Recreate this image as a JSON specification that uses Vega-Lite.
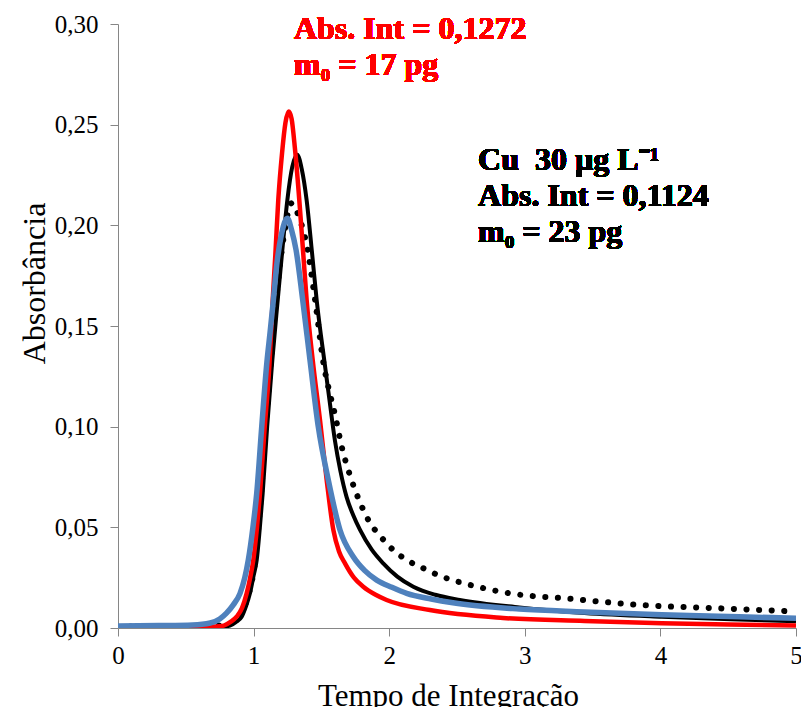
{
  "$schema": "https://vega.github.io/schema/vega-lite/v6.json",
  "width": 678,
  "height": 604,
  "autosize": "none",
  "padding": {"left": 118, "top": 24, "right": 5, "bottom": 79},
  "background": "white",
  "config": {"view": {"stroke": null}, "font": "Liberation Serif"},
  "datasets": {
    "curves": [
      {"s": "r", "t": 0, "a": 0}, {"s": "r", "t": 0.3, "a": 0.0003}, {"s": "r", "t": 0.6, "a": 0.0005}, {"s": "r", "t": 0.72, "a": 0.0007},
      {"s": "r", "t": 0.78, "a": 0.0012}, {"s": "r", "t": 0.83, "a": 0.003}, {"s": "r", "t": 0.875, "a": 0.0056}, {"s": "r", "t": 0.915, "a": 0.010},
      {"s": "r", "t": 0.949, "a": 0.0172}, {"s": "r", "t": 0.975, "a": 0.025}, {"s": "r", "t": 0.998, "a": 0.0338}, {"s": "r", "t": 1.025, "a": 0.05},
      {"s": "r", "t": 1.047, "a": 0.0669}, {"s": "r", "t": 1.08, "a": 0.098}, {"s": "r", "t": 1.116, "a": 0.13}, {"s": "r", "t": 1.141, "a": 0.163},
      {"s": "r", "t": 1.16, "a": 0.185}, {"s": "r", "t": 1.182, "a": 0.2126}, {"s": "r", "t": 1.21, "a": 0.236}, {"s": "r", "t": 1.235, "a": 0.251},
      {"s": "r", "t": 1.259, "a": 0.2565}, {"s": "r", "t": 1.28, "a": 0.253}, {"s": "r", "t": 1.305, "a": 0.238}, {"s": "r", "t": 1.337, "a": 0.2126},
      {"s": "r", "t": 1.365, "a": 0.187}, {"s": "r", "t": 1.391, "a": 0.163}, {"s": "r", "t": 1.436, "a": 0.133}, {"s": "r", "t": 1.49, "a": 0.103},
      {"s": "r", "t": 1.539, "a": 0.0735}, {"s": "r", "t": 1.588, "a": 0.0487}, {"s": "r", "t": 1.63, "a": 0.038}, {"s": "r", "t": 1.674, "a": 0.0321},
      {"s": "r", "t": 1.74, "a": 0.025}, {"s": "r", "t": 1.809, "a": 0.0205}, {"s": "r", "t": 1.9, "a": 0.0165}, {"s": "r", "t": 1.981, "a": 0.0139},
      {"s": "r", "t": 2.3, "a": 0.0089}, {"s": "r", "t": 2.84, "a": 0.005}, {"s": "r", "t": 3.44, "a": 0.0035}, {"s": "r", "t": 4.01, "a": 0.0024},
      {"s": "r", "t": 4.5, "a": 0.0017}, {"s": "r", "t": 5.0, "a": 0.0012},

      {"s": "k", "t": 0, "a": 0}, {"s": "k", "t": 0.3, "a": 0.0002}, {"s": "k", "t": 0.6, "a": 0.0003}, {"s": "k", "t": 0.75, "a": 0.0005},
      {"s": "k", "t": 0.826, "a": 0.0012}, {"s": "k", "t": 0.87, "a": 0.003}, {"s": "k", "t": 0.912, "a": 0.0056}, {"s": "k", "t": 0.945, "a": 0.011},
      {"s": "k", "t": 0.973, "a": 0.0172}, {"s": "k", "t": 1.0, "a": 0.026}, {"s": "k", "t": 1.023, "a": 0.0338}, {"s": "k", "t": 1.045, "a": 0.049},
      {"s": "k", "t": 1.067, "a": 0.0669}, {"s": "k", "t": 1.1, "a": 0.1}, {"s": "k", "t": 1.138, "a": 0.133}, {"s": "k", "t": 1.178, "a": 0.163},
      {"s": "k", "t": 1.215, "a": 0.19}, {"s": "k", "t": 1.249, "a": 0.2126}, {"s": "k", "t": 1.285, "a": 0.229}, {"s": "k", "t": 1.322, "a": 0.235},
      {"s": "k", "t": 1.355, "a": 0.228}, {"s": "k", "t": 1.391, "a": 0.2126}, {"s": "k", "t": 1.43, "a": 0.187}, {"s": "k", "t": 1.465, "a": 0.163},
      {"s": "k", "t": 1.527, "a": 0.13}, {"s": "k", "t": 1.56, "a": 0.113}, {"s": "k", "t": 1.6, "a": 0.093}, {"s": "k", "t": 1.64, "a": 0.078},
      {"s": "k", "t": 1.686, "a": 0.065}, {"s": "k", "t": 1.735, "a": 0.056}, {"s": "k", "t": 1.785, "a": 0.0487}, {"s": "k", "t": 1.87, "a": 0.039},
      {"s": "k", "t": 1.956, "a": 0.0321}, {"s": "k", "t": 2.06, "a": 0.0255}, {"s": "k", "t": 2.178, "a": 0.0205}, {"s": "k", "t": 2.34, "a": 0.0165},
      {"s": "k", "t": 2.52, "a": 0.0139}, {"s": "k", "t": 2.96, "a": 0.0102}, {"s": "k", "t": 3.44, "a": 0.0075}, {"s": "k", "t": 4.01, "a": 0.0056},
      {"s": "k", "t": 4.58, "a": 0.0042}, {"s": "k", "t": 5.0, "a": 0.0033},

      {"s": "b", "t": 0, "a": 0.001}, {"s": "b", "t": 0.3, "a": 0.0012}, {"s": "b", "t": 0.55, "a": 0.0015}, {"s": "b", "t": 0.68, "a": 0.0025},
      {"s": "b", "t": 0.75, "a": 0.0045}, {"s": "b", "t": 0.8, "a": 0.0074}, {"s": "b", "t": 0.85, "a": 0.0115}, {"s": "b", "t": 0.9, "a": 0.0172},
      {"s": "b", "t": 0.935, "a": 0.025}, {"s": "b", "t": 0.961, "a": 0.0338}, {"s": "b", "t": 0.995, "a": 0.05}, {"s": "b", "t": 1.023, "a": 0.0669},
      {"s": "b", "t": 1.06, "a": 0.1}, {"s": "b", "t": 1.098, "a": 0.132}, {"s": "b", "t": 1.121, "a": 0.1465}, {"s": "b", "t": 1.146, "a": 0.163},
      {"s": "b", "t": 1.17, "a": 0.18}, {"s": "b", "t": 1.207, "a": 0.196}, {"s": "b", "t": 1.249, "a": 0.2035}, {"s": "b", "t": 1.28, "a": 0.1977},
      {"s": "b", "t": 1.313, "a": 0.1878}, {"s": "b", "t": 1.362, "a": 0.163}, {"s": "b", "t": 1.416, "a": 0.133}, {"s": "b", "t": 1.477, "a": 0.1},
      {"s": "b", "t": 1.551, "a": 0.0735}, {"s": "b", "t": 1.637, "a": 0.0487}, {"s": "b", "t": 1.735, "a": 0.0354}, {"s": "b", "t": 1.82, "a": 0.0285},
      {"s": "b", "t": 1.908, "a": 0.0238}, {"s": "b", "t": 2.02, "a": 0.0202}, {"s": "b", "t": 2.129, "a": 0.0172}, {"s": "b", "t": 2.31, "a": 0.0144},
      {"s": "b", "t": 2.47, "a": 0.0125}, {"s": "b", "t": 2.96, "a": 0.0094}, {"s": "b", "t": 3.44, "a": 0.008}, {"s": "b", "t": 4.01, "a": 0.0066},
      {"s": "b", "t": 4.58, "a": 0.0056}, {"s": "b", "t": 5.0, "a": 0.0048},

      {"s": "d", "t": 0, "a": 0.0005}, {"s": "d", "t": 0.3, "a": 0.001}, {"s": "d", "t": 0.6, "a": 0.001}, {"s": "d", "t": 0.75, "a": 0.0012},
      {"s": "d", "t": 0.85, "a": 0.003}, {"s": "d", "t": 0.91, "a": 0.008}, {"s": "d", "t": 0.96, "a": 0.016}, {"s": "d", "t": 1.01, "a": 0.033},
      {"s": "d", "t": 1.055, "a": 0.067}, {"s": "d", "t": 1.09, "a": 0.1}, {"s": "d", "t": 1.13, "a": 0.135}, {"s": "d", "t": 1.18, "a": 0.172},
      {"s": "d", "t": 1.224, "a": 0.195}, {"s": "d", "t": 1.28, "a": 0.211}, {"s": "d", "t": 1.33, "a": 0.205}, {"s": "d", "t": 1.398, "a": 0.1878},
      {"s": "d", "t": 1.453, "a": 0.163}, {"s": "d", "t": 1.519, "a": 0.13}, {"s": "d", "t": 1.55, "a": 0.12}, {"s": "d", "t": 1.6, "a": 0.106},
      {"s": "d", "t": 1.65, "a": 0.09}, {"s": "d", "t": 1.72, "a": 0.074}, {"s": "d", "t": 1.8, "a": 0.06}, {"s": "d", "t": 1.86, "a": 0.052},
      {"s": "d", "t": 1.93, "a": 0.046}, {"s": "d", "t": 2.03, "a": 0.0387}, {"s": "d", "t": 2.11, "a": 0.0346}, {"s": "d", "t": 2.28, "a": 0.0288},
      {"s": "d", "t": 2.36, "a": 0.0263}, {"s": "d", "t": 2.55, "a": 0.0222}, {"s": "d", "t": 2.65, "a": 0.0205}, {"s": "d", "t": 2.93, "a": 0.0168},
      {"s": "d", "t": 3.3, "a": 0.0147}, {"s": "d", "t": 3.86, "a": 0.0114}, {"s": "d", "t": 4.43, "a": 0.0098}, {"s": "d", "t": 5.0, "a": 0.0082}
    ]
  },
  "data": {"name": "curves"},
  "encoding": {
    "x": {
      "field": "t", "type": "quantitative",
      "scale": {"domain": [0, 5], "nice": false, "zero": false},
      "title": "Tempo de Integração",
      "axis": {
        "values": [0, 1, 2, 3, 4, 5], "format": "d", "grid": false,
        "domainColor": "#868686", "tickColor": "#868686", "tickSize": 8,
        "labelFontSize": 25, "labelColor": "#000000", "labelPadding": 7, "labelFlush": false,
        "labelFont": "Liberation Serif",
        "titleFont": "Liberation Serif", "titleFontSize": 31, "titleFontWeight": "normal", "titleColor": "#000000",
        "titleX": 330, "titleY": 53, "titleBaseline": "top", "titleAlign": "center"
      }
    },
    "y": {
      "field": "a", "type": "quantitative",
      "scale": {"domain": [0, 0.3], "nice": false},
      "title": "Absorbância",
      "axis": {
        "values": [0, 0.05, 0.1, 0.15, 0.2, 0.25, 0.3], "grid": false,
        "labelExpr": "replace(format(datum.value, '.2f'), '.', ',')",
        "domainColor": "#868686", "tickColor": "#868686", "tickSize": 8,
        "labelFontSize": 25, "labelColor": "#000000", "labelPadding": 12,
        "labelFont": "Liberation Serif",
        "titleFont": "Liberation Serif", "titleFontSize": 32, "titleFontWeight": "normal", "titleColor": "#000000",
        "titleX": -84, "titleY": 259, "titleAngle": 270, "titleBaseline": "middle", "titleAlign": "center"
      }
    }
  },
  "layer": [
    {
      "transform": [{"filter": "datum.s === 'd'"}],
      "mark": {"type": "line", "interpolate": "monotone", "color": "#000000", "strokeWidth": 6, "strokeCap": "round", "strokeDash": [0.1, 12.5], "clip": true}
    },
    {
      "transform": [{"filter": "datum.s === 'k'"}],
      "mark": {"type": "line", "interpolate": "monotone", "color": "#000000", "strokeWidth": 4, "clip": true}
    },
    {
      "transform": [{"filter": "datum.s === 'r'"}],
      "mark": {"type": "line", "interpolate": "monotone", "color": "#FF0000", "strokeWidth": 4.5, "clip": true}
    },
    {
      "transform": [{"filter": "datum.s === 'b'"}],
      "mark": {"type": "line", "interpolate": "monotone", "color": "#4F81BD", "strokeWidth": 5.5, "clip": true}
    },
    {
      "mark": {"type": "text", "align": "left", "baseline": "alphabetic", "fontSize": 32, "fontWeight": "bold", "color": "#FF0000", "lineHeight": 36, "font": "Liberation Serif"},
      "encoding": {
        "x": {"datum": 1.298, "type": "quantitative"},
        "y": {"datum": 0.2925, "type": "quantitative"},
        "text": {"value": ["Abs. Int = 0,1272", "m₀ = 17 pg"]}
      }
    },
    {
      "mark": {"type": "text", "align": "left", "baseline": "alphabetic", "fontSize": 32, "fontWeight": "bold", "color": "#000000", "lineHeight": 36, "font": "Liberation Serif"},
      "encoding": {
        "x": {"datum": 2.655, "type": "quantitative"},
        "y": {"datum": 0.2275, "type": "quantitative"},
        "text": {"value": ["Cu\u00a0 30 µg L⁻¹", "Abs. Int = 0,1124", "m₀ = 23 pg"]}
      }
    }
  ]
}
